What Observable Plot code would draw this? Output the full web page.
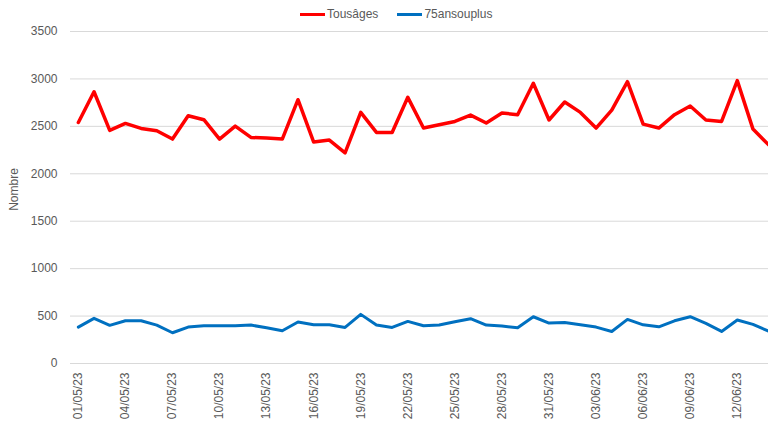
<!DOCTYPE html>
<html>
<head>
<meta charset="utf-8">
<script src="https://cdn.jsdelivr.net/npm/d3@7"></script>
<script src="https://cdn.jsdelivr.net/npm/@observablehq/plot@0.6"></script>
<style>
  html, body { margin: 0; padding: 0; background: #fff; }
  #wrap { width: 768px; height: 430px; overflow: hidden; font-family: "Liberation Sans", sans-serif; color: #595959; }
  #legend { height: 24px; display: flex; align-items: center; padding-left: 300px; padding-top: 4px; box-sizing: border-box; font-size: 12px; }
  .item { display: flex; align-items: center; margin-right: 19px; }
  .swatch { width: 25px; height: 3px; margin-right: 2px; }
</style>
</head>
<body>
<div id="wrap">
  <div id="legend"></div>
  <div id="chart"></div>
</div>
<script>
const dates = [
  "01/05/23","02/05/23","03/05/23","04/05/23","05/05/23","06/05/23","07/05/23","08/05/23","09/05/23","10/05/23",
  "11/05/23","12/05/23","13/05/23","14/05/23","15/05/23","16/05/23","17/05/23","18/05/23","19/05/23","20/05/23",
  "21/05/23","22/05/23","23/05/23","24/05/23","25/05/23","26/05/23","27/05/23","28/05/23","29/05/23","30/05/23",
  "31/05/23","01/06/23","02/06/23","03/06/23","04/06/23","05/06/23","06/06/23","07/06/23","08/06/23","09/06/23",
  "10/06/23","11/06/23","12/06/23","13/06/23","14/06/23"
];
const tousAges = [
  2541, 2865, 2458, 2531, 2478, 2454, 2366, 2612, 2570, 2366,
  2503, 2383, 2376, 2366, 2781, 2334, 2355, 2221, 2647, 2436,
  2436, 2806, 2482, 2517, 2552, 2619, 2535, 2641, 2623, 2954,
  2567, 2757, 2647, 2482, 2672, 2971, 2524, 2482, 2623, 2715,
  2567, 2552, 2982, 2471, 2305
];
const ansOuPlus75 = [
  384, 476, 402, 450, 450, 405, 324, 384, 398, 398,
  398, 405, 377, 345, 437, 408, 408, 380, 518, 405,
  380, 444, 398, 405, 440, 472, 405, 395, 377, 493,
  426, 433, 408, 384, 338, 465, 408, 387, 450, 493,
  423, 338, 458, 412, 341
];
const seriesNames = ["Tousâges", "75ansouplus"];
const seriesColors = ["#ff0000", "#0070c0"];
const yTicks = [0, 500, 1000, 1500, 2000, 2500, 3000, 3500];
const xTickLabels = ["01/05/23","04/05/23","07/05/23","10/05/23","13/05/23","16/05/23","19/05/23","22/05/23","25/05/23","28/05/23","31/05/23","03/06/23","06/06/23","09/06/23","12/06/23"];
const yTitle = "Nombre";

const parse = d3.utcParse("%d/%m/%y");
const fmt = d3.utcFormat("%d/%m/%y");
const data = [];
dates.forEach((d, i) => {
  data.push({date: parse(d), value: tousAges[i], series: seriesNames[0]});
  data.push({date: parse(d), value: ansOuPlus75[i], series: seriesNames[1]});
});
const halfDay = 12 * 3600 * 1000;
const x0 = new Date(parse(dates[0]).getTime() - halfDay);
const x1 = new Date(parse(dates[dates.length - 1]).getTime() + halfDay);

// legend
const legend = document.getElementById("legend");
seriesNames.forEach((n, i) => {
  const it = document.createElement("div");
  it.className = "item";
  it.innerHTML = `<div class="swatch" style="background:${seriesColors[i]}"></div><span>${n}</span>`;
  legend.appendChild(it);
});

const chart = Plot.plot({
  width: 768,
  height: 406,
  marginTop: 7,
  marginLeft: 70,
  marginRight: 0,
  marginBottom: 67,
  style: {fontFamily: "Liberation Sans, sans-serif", fontSize: "12px", color: "#595959", background: "#fff", overflow: "hidden"},
  x: {type: "utc", domain: [x0, x1], range: [70, 776]},
  y: {domain: [0, 3500]},
  marks: [
    Plot.gridY(yTicks, {stroke: "#d9d9d9", strokeOpacity: 1, strokeWidth: 1}),
    Plot.axisY({ticks: yTicks, tickFormat: d3.format("d"), tickSize: 0, tickPadding: 13, fontSize: 12, fill: "#595959", label: null}),
    Plot.text([yTitle], {frameAnchor: "left", textAnchor: "middle", rotate: -90, dx: -56, dy: -8, fontSize: 12, fill: "#595959"}),
    Plot.axisX({ticks: xTickLabels.map(parse), tickFormat: fmt, tickRotate: -90, tickSize: 0, tickPadding: 9,
      fontSize: 12, fill: "#595959", label: null}),
    Plot.lineY(data.filter(d => d.series === seriesNames[1]), {x: "date", y: "value", stroke: seriesColors[1], strokeWidth: 3}),
    Plot.lineY(data.filter(d => d.series === seriesNames[0]), {x: "date", y: "value", stroke: seriesColors[0], strokeWidth: 3.5})
  ]
});
document.getElementById("chart").appendChild(chart);
</script>
</body>
</html>
